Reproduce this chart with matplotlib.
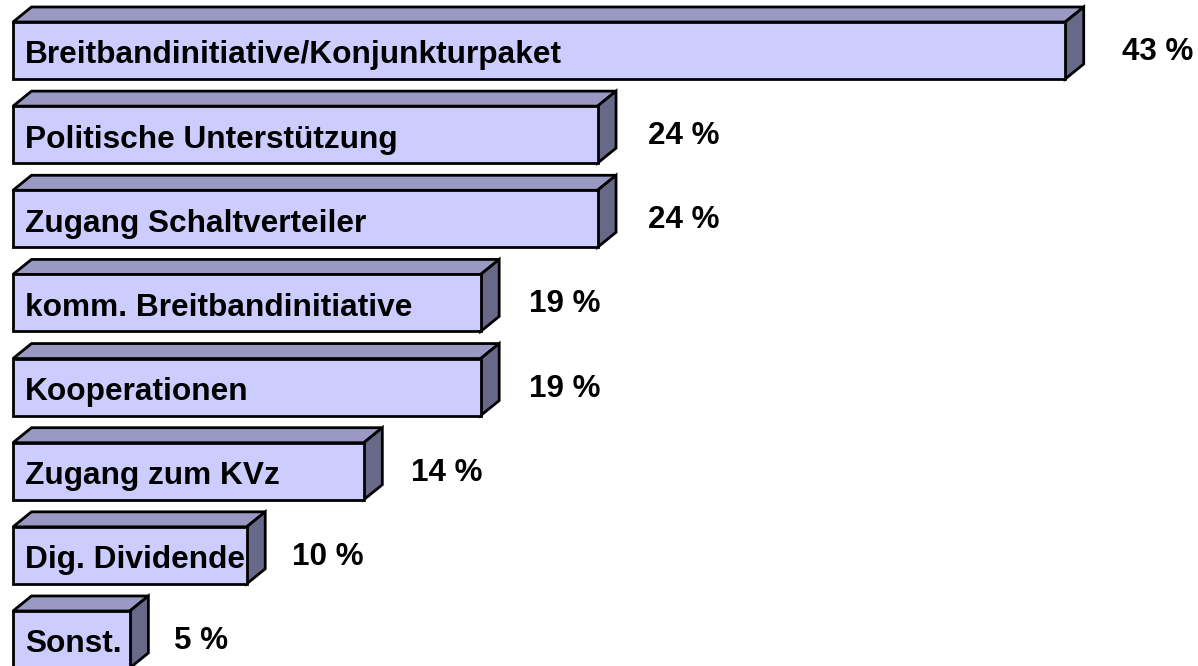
import matplotlib
matplotlib.use("Agg")
import matplotlib.pyplot as plt
from matplotlib.patches import Polygon

categories = [
    "Breitbandinitiative/Konjunkturpaket",
    "Politische Unterstützung",
    "Zugang Schaltverteiler",
    "komm. Breitbandinitiative",
    "Kooperationen",
    "Zugang zum KVz",
    "Dig. Dividende",
    "Sonst.",
]
values = [42.86, 23.81, 23.81, 19.05, 19.05, 14.29, 9.52, 4.76]
value_labels = ["43 %", "24 %", "24 %", "19 %", "19 %", "14 %", "10 %", "5 %"]

W, H = 1198, 666
fig = plt.figure(figsize=(W / 100, H / 100), dpi=100)
ax = fig.add_axes([0, 0, 1, 1])

px_per_x = 24.55
px_per_y = 84.14
x0_px = 13
y0_px = 50.5
ax.set_xlim(-x0_px / px_per_x, (W - x0_px) / px_per_x)
ax.set_ylim((H - y0_px) / px_per_y, -y0_px / px_per_y)
ax.axis("off")

bar_h = 57 / px_per_y
dx = 18.5 / px_per_x
dy = 15 / px_per_y

front_c = "#CCCCFF"
top_c = "#9999C4"
side_c = "#686888"
lw = 2.0
font = ["Liberation Sans", "DejaVu Sans"]

ys = list(range(len(categories)))
ax.barh(ys, values, height=bar_h, left=0, color=front_c, edgecolor="black",
        linewidth=lw, zorder=3)

for y, v, cat, lab in zip(ys, values, categories, value_labels):
    top = y - bar_h / 2
    bot = y + bar_h / 2
    top_poly = Polygon([(0, top), (v, top), (v + dx, top - dy), (dx, top - dy)],
                       closed=True, facecolor=top_c, edgecolor="black",
                       linewidth=lw, joinstyle="miter", zorder=2)
    side_poly = Polygon([(v, top), (v + dx, top - dy), (v + dx, bot - dy), (v, bot)],
                        closed=True, facecolor=side_c, edgecolor="black",
                        linewidth=lw, joinstyle="miter", zorder=2)
    ax.add_patch(top_poly)
    ax.add_patch(side_poly)
    ax.text(12 / px_per_x, y + 13 / px_per_y, cat, ha="left", va="baseline",
            fontsize=22.8, fontweight="bold", family=font, zorder=4)
    ax.text(v * 1.014 + 1.72, y + 9.5 / px_per_y, lab, ha="left", va="baseline",
            fontsize=22.6, fontweight="bold", family=font, zorder=4)

fig.savefig("out.png", dpi=100, facecolor="white")
